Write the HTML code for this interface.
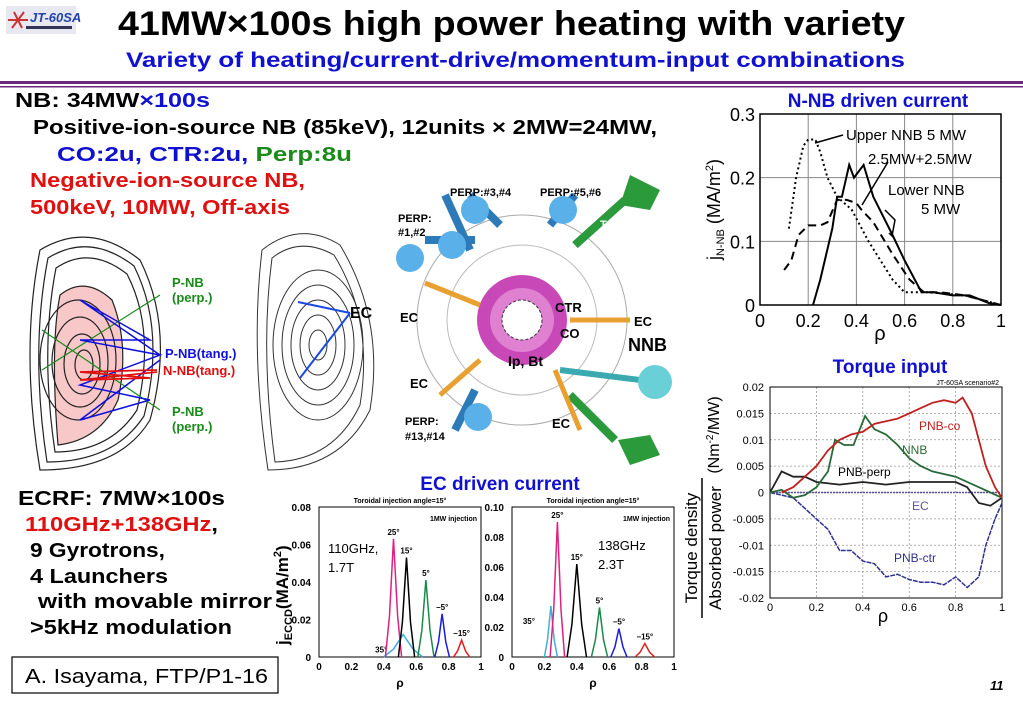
<!DOCTYPE html>
<html><head><meta charset="utf-8"><style>
html,body{margin:0;padding:0;background:#fff}
svg{display:block;font-family:"Liberation Sans",sans-serif}
.b{font-weight:bold}
</style></head><body>
<svg id="s" width="1023" height="708" viewBox="0 0 1023 708" xmlns="http://www.w3.org/2000/svg">
<!-- logo -->
<g>
<rect x="6" y="6" width="70" height="28" fill="#e8e8f0"/>
<path d="M8 20 L28 20 M14 12 L22 28 M12 28 L24 12" stroke="#c33" stroke-width="2" fill="none"/>
<text x="30" y="22" font-size="13" font-weight="bold" font-style="italic" fill="#2244aa">JT-60SA</text>
<rect x="26" y="26" width="46" height="3" fill="#335"/>
</g>
<text x="118" y="35" font-size="34" class="b" textLength="787" lengthAdjust="spacingAndGlyphs">41MW×100s high power heating with variety</text>
<text x="126" y="67" font-size="21" class="b" fill="#1010d0" textLength="779" lengthAdjust="spacingAndGlyphs">Variety of heating/current-drive/momentum-input combinations</text>
<rect x="0" y="81" width="1023" height="3" fill="#6a2a7a"/>
<rect x="0" y="86" width="1023" height="1.5" fill="#6a2a7a"/>

<g font-size="20" class="b">
<text x="15" y="107" textLength="195" lengthAdjust="spacingAndGlyphs">NB: 34MW<tspan fill="#1010d0">×100s</tspan></text>
<text x="33" y="134" textLength="624" lengthAdjust="spacingAndGlyphs">Positive-ion-source NB (85keV), 12units × 2MW=24MW,</text>
<text x="57" y="161" textLength="295" lengthAdjust="spacingAndGlyphs"><tspan fill="#1010d0">CO:2u, CTR:2u, </tspan><tspan fill="#1a8a1a">Perp:8u</tspan></text>
<text x="30" y="187" fill="#e01010" textLength="275" lengthAdjust="spacingAndGlyphs">Negative-ion-source NB,</text>
<text x="30" y="214" fill="#e01010" textLength="260" lengthAdjust="spacingAndGlyphs">500keV, 10MW, Off-axis</text>
</g>

<!-- poloidal figure 1 -->
<g fill="none" stroke="#222" stroke-width="1.2">
<path d="M40 470 Q20 350 40 250 Q90 220 140 260 Q175 330 150 420 Q120 470 40 470Z"/>
<path d="M47 462 Q30 350 48 258 Q90 232 134 266 Q166 330 144 416 Q114 462 47 462Z"/>
<path d="M55 452 Q40 350 56 268 Q90 245 127 274 Q156 330 137 410 Q110 452 55 452Z"/>
<path d="M58 445 Q50 345 60 295 Q85 275 112 300 Q130 345 118 400 Q100 440 58 445Z" fill="#f8c8c8"/>
<ellipse cx="78" cy="360" rx="38" ry="60"/><ellipse cx="80" cy="362" rx="28" ry="45"/><ellipse cx="82" cy="364" rx="18" ry="30"/><ellipse cx="84" cy="365" rx="9" ry="15"/>
<path d="M42 370 L160 295 M42 330 L160 410" stroke="#1a8a1a"/>
<path d="M160 355 L80 300 L150 340 L80 340 L160 355 L80 385 L150 400 L80 420 L160 360" stroke="#1010e0" stroke-width="1.5"/>
<path d="M157 370 L80 372 L150 378 L80 380 L157 372" stroke="#e01010" stroke-width="1.8"/>
</g>
<g font-size="13" class="b">
<text x="172" y="287" fill="#1a8a1a">P-NB</text><text x="172" y="302" fill="#1a8a1a">(perp.)</text>
<text x="165" y="358" fill="#1010e0">P-NB(tang.)</text>
<text x="163" y="375" fill="#e01010">N-NB(tang.)</text>
<text x="172" y="416" fill="#1a8a1a">P-NB</text><text x="172" y="431" fill="#1a8a1a">(perp.)</text>
</g>
<!-- poloidal figure 2 -->
<g fill="none" stroke="#333" stroke-width="1">
<path d="M268 470 Q250 350 262 250 Q300 220 340 245 Q385 320 370 410 Q340 470 268 470Z"/>
<path d="M275 462 Q260 350 272 258 Q300 236 334 255 Q374 320 360 405 Q334 460 275 462Z"/>
<ellipse cx="318" cy="345" rx="45" ry="75"/><ellipse cx="318" cy="345" rx="36" ry="60"/><ellipse cx="318" cy="345" rx="27" ry="45"/><ellipse cx="318" cy="345" rx="18" ry="30"/><ellipse cx="318" cy="345" rx="9" ry="15"/>
<path d="M350 313 L298 302 M350 313 L300 378" stroke="#1a4ae0" stroke-width="2"/>
</g>
<text x="350" y="318" font-size="16" class="b">EC</text>

<!-- torus top view -->
<g>
<circle cx="522" cy="320" r="105" fill="none" stroke="#aaa"/>
<circle cx="522" cy="320" r="75" fill="none" stroke="#bbb"/>
<path d="M470 250 L445 195 M475 240 L425 240 M500 225 L470 195 M550 225 L575 195 M575 245 L625 200 M475 390 L455 430 M570 395 L615 440" stroke="#2d7ab8" stroke-width="8"/>
<path d="M575 245 L625 200 M570 395 L615 440" stroke="#2a9a3a" stroke-width="8"/>
<circle cx="410" cy="258" r="14" fill="#5ab0e8"/><circle cx="452" cy="245" r="14" fill="#5ab0e8"/><circle cx="475" cy="210" r="14" fill="#5ab0e8"/><circle cx="563" cy="210" r="14" fill="#5ab0e8"/><circle cx="478" cy="417" r="14" fill="#5ab0e8"/>
<path d="M620 205 L650 210 L660 190 L630 175Z M618 440 L650 435 L660 455 L630 465Z" fill="#2a9a3a"/>
<path d="M560 370 L640 380" stroke="#3aaab0" stroke-width="6"/><circle cx="655" cy="382" r="17" fill="#6ad0d8"/>
<circle cx="522" cy="320" r="45" fill="#c848b8"/><circle cx="522" cy="320" r="32" fill="#e080d0"/><circle cx="522" cy="320" r="20" fill="#fff" stroke="#333" stroke-dasharray="3 2"/>
<path d="M425 283 L480 305 M570 320 L630 320 M480 360 L440 395 M555 370 L580 430" stroke="#e8a030" stroke-width="5"/>
</g>
<g font-size="11" class="b">
<text x="450" y="196">PERP:#3,#4</text><text x="540" y="196">PERP:#5,#6</text>
<text x="398" y="222">PERP:</text><text x="398" y="236">#1,#2</text>
<text x="400" y="322" font-size="13">EC</text><text x="634" y="326" font-size="13">EC</text>
<text x="410" y="388" font-size="13">EC</text><text x="552" y="428" font-size="13">EC</text>
<text x="405" y="425">PERP:</text><text x="405" y="440">#13,#14</text>
<text x="600" y="228" fill="#fff">TANG</text><text x="603" y="240" fill="#fff">#7,#8</text>
<text x="597" y="480" fill="#fff">TANG</text><text x="597" y="492" fill="#fff">#9,#10</text>
<text x="555" y="312" font-size="13">CTR</text><text x="560" y="338" font-size="13">CO</text>
<text x="508" y="366" font-size="14">Ip, Bt</text>
</g>
<text x="628" y="351" font-size="18" class="b">NNB</text>

<!-- ECRF text -->
<g font-size="20" class="b">
<text x="18" y="505" textLength="207" lengthAdjust="spacingAndGlyphs">ECRF: 7MW×100s</text>
<text x="25" y="531" fill="#e01010" textLength="193" lengthAdjust="spacingAndGlyphs">110GHz+138GHz<tspan fill="#000">,</tspan></text>
<text x="30" y="557" textLength="135" lengthAdjust="spacingAndGlyphs">9 Gyrotrons,</text>
<text x="30" y="583" textLength="138" lengthAdjust="spacingAndGlyphs">4 Launchers</text>
<text x="38" y="608" textLength="234" lengthAdjust="spacingAndGlyphs">with movable mirror</text>
<text x="30" y="634" textLength="202" lengthAdjust="spacingAndGlyphs">&gt;5kHz modulation</text>
</g>
<rect x="12" y="657" width="266" height="36" fill="none" stroke="#000" stroke-width="1.2"/>
<text x="25" y="683" font-size="20" textLength="243" lengthAdjust="spacingAndGlyphs">A. Isayama, FTP/P1-16</text>
<text x="990" y="690" font-size="13" font-style="italic" class="b">11</text>

<!-- Titles of charts -->
<text x="878" y="107" font-size="19" class="b" fill="#1010d0" text-anchor="middle">N-NB driven current</text>
<text x="890" y="373" font-size="19" class="b" fill="#1010d0" text-anchor="middle">Torque input</text>
<text x="500" y="490" font-size="19" class="b" fill="#1010d0" text-anchor="middle">EC driven current</text>

<g id="nnb"></g><g id="torque"></g><g id="ec1"></g><g id="ec2"></g>
</svg>
<script>
// ---- N-NB chart data ----
const nnbXTicks=[0,0.2,0.4,0.6,0.8,1];
const nnbYTicks=[0,0.1,0.2,0.3];
const upperRho=[0.12,0.15,0.18,0.2,0.23,0.25,0.28,0.32,0.38,0.45,0.5,0.55,0.6,0.7,0.85,0.95,1];
const upperJ=[0.12,0.2,0.25,0.26,0.26,0.24,0.2,0.17,0.15,0.1,0.07,0.04,0.02,0.02,0.015,0.005,0];
const mixRho=[0.1,0.13,0.16,0.2,0.25,0.28,0.32,0.36,0.4,0.42,0.47,0.55,0.62,0.68,0.75,0.85,1];
const mixJ=[0.055,0.07,0.11,0.125,0.125,0.13,0.165,0.165,0.16,0.15,0.13,0.08,0.04,0.02,0.02,0.015,0];
const lowerRho=[0.22,0.25,0.3,0.32,0.34,0.37,0.39,0.43,0.47,0.55,0.6,0.67,0.72,0.8,0.87,0.95,1];
const lowerJ=[0,0.04,0.12,0.17,0.17,0.22,0.2,0.22,0.17,0.11,0.07,0.02,0.02,0.015,0.015,0.003,0];
// ---- Torque chart data ----
const tqXTicks=[0,0.2,0.4,0.6,0.8,1];
const tqYTicks=[-0.02,-0.015,-0.01,-0.005,0,0.005,0.01,0.015,0.02];
const tqYLabels=["-0.02","-0.015","-0.01","-0.005","0","0.005","0.01","0.015","0.02"];
const coRho=[0.05,0.1,0.15,0.2,0.25,0.3,0.35,0.4,0.45,0.5,0.55,0.6,0.65,0.7,0.75,0.8,0.83,0.87,0.9,0.93,0.97,1];
const coVal=[0,0.001,0.003,0.005,0.008,0.01,0.011,0.0115,0.013,0.0135,0.014,0.015,0.016,0.017,0.0175,0.017,0.018,0.015,0.01,0.005,0.001,-0.001];
const nnbTRho=[0,0.05,0.1,0.15,0.2,0.25,0.28,0.32,0.36,0.41,0.45,0.5,0.55,0.6,0.65,0.7,0.8,0.9,0.95,1];
const nnbTVal=[0,0.0005,-0.001,-0.0005,0.001,0.004,0.01,0.009,0.009,0.0145,0.012,0.011,0.009,0.0065,0.005,0.004,0.003,0.001,0,-0.001];
const perpRho=[0,0.05,0.1,0.15,0.2,0.3,0.4,0.5,0.6,0.7,0.8,0.85,0.9,0.95,1];
const perpVal=[0,0.004,0.003,0.003,0.002,0.0015,0.002,0.0015,0.002,0.002,0.002,0.001,-0.002,-0.0025,-0.001];
const ctrRho=[0,0.05,0.1,0.15,0.2,0.25,0.3,0.35,0.4,0.45,0.5,0.55,0.6,0.65,0.7,0.75,0.8,0.85,0.9,0.93,0.97,1];
const ctrVal=[0,-0.0005,-0.001,-0.003,-0.005,-0.007,-0.011,-0.011,-0.013,-0.0135,-0.016,-0.0155,-0.0165,-0.017,-0.017,-0.0175,-0.016,-0.018,-0.016,-0.01,-0.005,-0.002];
const ecRho=[0,1];
const ecVal=[0,0];
// ---- EC charts data ----
const ecAngles=["35°","25°","15°","5°","−5°","−15°"];
const ec1Centers=[0.52,0.46,0.54,0.66,0.76,0.88];
const ec1Heights=[0.012,0.063,0.053,0.041,0.023,0.009];
const ec1Widths=[0.12,0.05,0.05,0.05,0.045,0.05];
const ec2Centers=[0.24,0.28,0.4,0.54,0.66,0.82];
const ec2Heights=[0.034,0.09,0.062,0.033,0.019,0.009];
const ec2Widths=[0.04,0.045,0.06,0.05,0.05,0.06];
const ec1YTicks=[0,0.02,0.04,0.06,0.08];
const ec1YLabels=["0","0.02","0.04","0.06","0.08"];
const ec2YTicks=[0,0.02,0.04,0.06,0.08,0.1];
const ec2YLabels=["0","0.02","0.04","0.06","0.08","0.10"];
const ecXTicks=[0,0.2,0.4,0.6,0.8,1];
const ecColors=["#40b0d8","#e02080","#000","#1a8a4a","#1a1ae0","#e02020"];

const NS="http://www.w3.org/2000/svg";
function mk(p,tag,a){const e=document.createElementNS(NS,tag);for(const k in a)e.setAttribute(k,a[k]);p.appendChild(e);return e;}
function fmt(v){return String(v);}
function axes(g,L,R,T,B,xmin,xmax,ymin,ymax){
  return {x:v=>L+(v-xmin)/(xmax-xmin)*(R-L), y:v=>B-(v-ymin)/(ymax-ymin)*(B-T)};
}
function line(g,sx,sy,xs,ys,attrs,name){
  const d=xs.map((v,i)=>(i?'L':'M')+sx(v).toFixed(1)+' '+sy(ys[i]).toFixed(1)).join(' ');
  const p=mk(g,'path',Object.assign({d:d,fill:'none'},attrs));
  
  
  return p;
}

// N-NB chart
(function(){
const g=document.getElementById('nnb');
const L=760,R=1001,T=114,B=305;
const a=axes(g,L,R,T,B,0,1,0,0.3);
nnbXTicks.forEach(v=>{
  if(v>0&&v<1){const l=mk(g,'line',{x1:a.x(v),x2:a.x(v),y1:T,y2:B,stroke:'#888','stroke-width':1});}
  const t=mk(g,'text',{x:a.x(v),y:B+22,'font-size':18,'text-anchor':'middle'});t.textContent=fmt(v);
  
});
nnbYTicks.forEach(v=>{
  if(v>0&&v<0.3){const l=mk(g,'line',{x1:L,x2:R,y1:a.y(v),y2:a.y(v),stroke:'#888','stroke-width':1});}
  const t=mk(g,'text',{x:L-5,y:a.y(v)+7,'font-size':18,'text-anchor':'end'});t.textContent=fmt(v);
  
});
const f=mk(g,'rect',{x:L,y:T,width:R-L,height:B-T,fill:'none',stroke:'#000','stroke-width':1.5});

line(g,a.x,a.y,upperRho,upperJ,{stroke:'#000','stroke-width':2,'stroke-dasharray':'2 3'},'upper-nnb-line');
line(g,a.x,a.y,mixRho,mixJ,{stroke:'#000','stroke-width':2,'stroke-dasharray':'8 5'},'split-nnb-line');
line(g,a.x,a.y,lowerRho,lowerJ,{stroke:'#000','stroke-width':2},'lower-nnb-line');
const xl=mk(g,'text',{x:880,y:340,'font-size':20,'text-anchor':'middle'});xl.textContent='ρ';

const yl=mk(g,'text',{x:0,y:0,'font-size':18,transform:'translate(720 260) rotate(-90)'});
yl.innerHTML='j<tspan font-size="11" dy="4">N-NB</tspan><tspan dy="-4"> (MA/m</tspan><tspan font-size="11" dy="-7">2</tspan><tspan dy="7">)</tspan>';

const ann=[['Upper NNB 5 MW',846,140],['2.5MW+2.5MW',868,164],['Lower NNB',888,195],['5 MW',921,214]];
ann.forEach(s=>{const t=mk(g,'text',{x:s[1],y:s[2],'font-size':15,fill:'#000'});t.textContent=s[0];
  });
const ar=mk(g,'path',{d:'M843 135 L815 143 M888 162 L862 205 M885 210 L895 220 L892 236 L889 233',stroke:'#000','stroke-width':1.5,fill:'none'});

})();

// Torque chart
(function(){
const g=document.getElementById('torque');
const L=770,R=1002,T=387,B=598;
const a=axes(g,L,R,T,B,0,1,-0.02,0.02);
tqXTicks.forEach(v=>{
  if(v>0&&v<1){const l=mk(g,'line',{x1:a.x(v),x2:a.x(v),y1:T,y2:B,stroke:'#999','stroke-width':0.8,'stroke-dasharray':'2 2'});}
  const t=mk(g,'text',{x:a.x(v),y:B+13,'font-size':11,'text-anchor':'middle'});t.textContent=fmt(v);
  
});
tqYTicks.forEach((v,i)=>{
  if(i>0&&i<tqYTicks.length-1){const l=mk(g,'line',{x1:L,x2:R,y1:a.y(v),y2:a.y(v),stroke:'#999','stroke-width':0.8,'stroke-dasharray':'2 2'});}
  const t=mk(g,'text',{x:L-6,y:a.y(v)+4,'font-size':11,'text-anchor':'end'});t.textContent=tqYLabels[i];
  
});
const f=mk(g,'rect',{x:L,y:T,width:R-L,height:B-T,fill:'none',stroke:'#000','stroke-width':1});

line(g,a.x,a.y,ecRho,ecVal,{stroke:'#6050a0','stroke-width':1.5,'stroke-dasharray':'2 1'},'ec-torque-line');
line(g,a.x,a.y,ctrRho,ctrVal,{stroke:'#303090','stroke-width':1.5,'stroke-dasharray':'5 1'},'pnb-ctr-torque-line');
line(g,a.x,a.y,perpRho,perpVal,{stroke:'#222','stroke-width':1.8},'pnb-perp-torque-line');
line(g,a.x,a.y,nnbTRho,nnbTVal,{stroke:'#2a6a3a','stroke-width':1.8},'nnb-torque-line');
line(g,a.x,a.y,coRho,coVal,{stroke:'#c02020','stroke-width':1.8},'pnb-co-torque-line');
const labs=[['PNB-co',919,430,'#c02020'],['NNB',902,454,'#2a6a3a'],['PNB-perp',838,476,'#000'],['EC',912,510,'#6050a0'],['PNB-ctr',894,562,'#303090']];
labs.forEach(s=>{const t=mk(g,'text',{x:s[1],y:s[2],'font-size':12,fill:s[3]});t.textContent=s[0];
  });
const sc=mk(g,'text',{x:999,y:385,'font-size':7,'text-anchor':'end'});sc.textContent='JT-60SA scenario#2';

const xl=mk(g,'text',{x:883,y:622,'font-size':18,'text-anchor':'middle'});xl.textContent='ρ';

const y1=mk(g,'text',{x:0,y:0,'font-size':17,'text-anchor':'middle',transform:'translate(697 548) rotate(-90)'});y1.textContent='Torque density';

mk(g,'line',{x1:702,x2:702,y1:478,y2:618,stroke:'#000','stroke-width':1.5});
const y2=mk(g,'text',{x:0,y:0,'font-size':17,'text-anchor':'middle',transform:'translate(721 548) rotate(-90)'});y2.textContent='Absorbed power';

const y3=mk(g,'text',{x:0,y:0,'font-size':16,'text-anchor':'middle',transform:'translate(719 435) rotate(-90)'});y3.innerHTML='(Nm<tspan font-size="10" dy="-6">-2</tspan><tspan dy="6">/MW)</tspan>';

})();

// EC charts
function ecChart(id,L,R,T,B,ymax,centers,heights,widths,yTicks,yLabels){
const g=document.getElementById(id);
const a=axes(g,L,R,T,B,0,1,0,ymax);
const f=mk(g,'rect',{x:L,y:T,width:R-L,height:B-T,fill:'none',stroke:'#000','stroke-width':1});

ecXTicks.forEach(v=>{const t=mk(g,'text',{x:a.x(v),y:B+13,'font-size':10,'font-weight':'bold','text-anchor':'middle'});t.textContent=fmt(v);
  });
yTicks.forEach((v,i)=>{const t=mk(g,'text',{x:L-8,y:a.y(v)+4,'font-size':10,'font-weight':'bold','text-anchor':'end'});t.textContent=yLabels[i];
  });
centers.forEach((c,i)=>{
  const w=widths[i],h=heights[i];
  const xs=[c-w,c-w*0.5,c,c+w*0.5,c+w];
  const ys=[0,h*0.35,h,h*0.35,0];
  line(g,a.x,a.y,xs,ys,{stroke:ecColors[i],'stroke-width':1.5},'ec-peak-'+i);
  const t=mk(g,'text',{x:a.x(c)+(i===0?-22:0),y:a.y(h)-(i===0?-18:4),'font-size':8,'font-weight':'bold','text-anchor':'middle'});t.textContent=ecAngles[i];
  
});
const tt=mk(g,'text',{x:(L+R)/2,y:T-4,'font-size':7,'font-weight':'bold','text-anchor':'middle'});tt.textContent='Toroidal injection angle=15°';

const mw=mk(g,'text',{x:R-4,y:T+14,'font-size':7,'font-weight':'bold','text-anchor':'end'});mw.textContent='1MW injection';

const xl=mk(g,'text',{x:(L+R)/2,y:B+30,'font-size':12,'font-weight':'bold','text-anchor':'middle'});xl.textContent='ρ';

return a;
}
ecChart('ec1',319,481,507,657,0.08,ec1Centers,ec1Heights,ec1Widths,ec1YTicks,ec1YLabels);
ecChart('ec2',512,674,507,657,0.10,ec2Centers,ec2Heights,ec2Widths,ec2YTicks,ec2YLabels);
(function(){
const g=document.getElementById('ec1');
const t1=mk(g,'text',{x:328,y:553,'font-size':13});t1.textContent='110GHz,';

const t2=mk(g,'text',{x:328,y:572,'font-size':13});t2.textContent='1.7T';
const t3=mk(g,'text',{x:598,y:550,'font-size':13});t3.textContent='138GHz';

const t4=mk(g,'text',{x:598,y:569,'font-size':13});t4.textContent='2.3T';
const yl=mk(g,'text',{x:0,y:0,'font-size':17,'font-weight':'bold',transform:'translate(288 645) rotate(-90)'});
yl.innerHTML='j<tspan font-size="11" dy="4">ECCD</tspan><tspan dy="-4">(MA/m</tspan><tspan font-size="11" dy="-7">2</tspan><tspan dy="7">)</tspan>';

})();
</script>
</body></html>
